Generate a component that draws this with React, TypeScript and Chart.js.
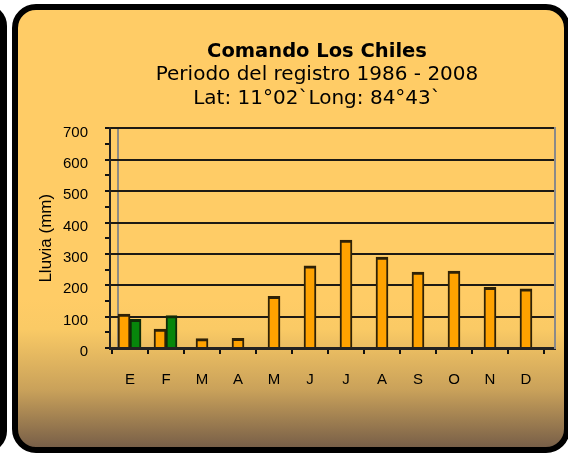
import React, { useEffect, useRef } from 'react';
import { Chart, registerables } from 'chart.js';

Chart.register(...registerables);

// ---- data ----
const MONTHS = ['E', 'F', 'M', 'A', 'M', 'J', 'J', 'A', 'S', 'O', 'N', 'D'];
const RAIN_AVG = [108, 60, 30, 31, 165, 262, 344, 290, 242, 245, 193, 189];
const RAIN_CURRENT = [91, 103, null, null, null, null, null, null, null, null, null, null];
const Y_MIN = 0;
const Y_MAX = 700;
const Y_MINOR_STEP = 50;
const Y_LABEL_STEP = 100;

const TITLE = 'Comando Los Chiles';
const SUBTITLE = ['Periodo del registro 1986 - 2008', 'Lat: 11°02`Long: 84°43`'];
const Y_TITLE = 'Lluvia (mm)';

const X_MIN = -0.556;
const X_MAX = 11.806;
const BACK_WALL_X = -0.333; // 3D back-wall edge, in category units

const toPoints = (vals: (number | null)[]) => vals.map((v, i) => ({ x: i, y: v }));

export default function App() {
  const ref = useRef<HTMLCanvasElement | null>(null);

  useEffect(() => {
    if (!ref.current) return;
    const chart = new Chart(ref.current, {
      type: 'bar',
      data: {
        datasets: [
          {
            label: 'Promedio',
            data: toPoints(RAIN_AVG),
            backgroundColor: '#FFA200',
            borderColor: '#2e2106',
            borderWidth: { top: 3, left: 2, right: 2, bottom: 0 },
            barThickness: 12,
            skipNull: true,
            xAxisID: 'x',
            yAxisID: 'y',
          } as any,
          {
            label: 'Actual',
            data: toPoints(RAIN_CURRENT),
            backgroundColor: '#07860B',
            borderColor: '#102a08',
            borderWidth: { top: 3, left: 2, right: 2, bottom: 0 },
            barThickness: 11,
            skipNull: true,
            xAxisID: 'x',
            yAxisID: 'y',
          } as any,
        ],
      },
      options: {
        animation: false,
        responsive: false,
        devicePixelRatio: 1,
        layout: { padding: { left: 0, right: 0, top: 0, bottom: 58.6 } },
        plugins: {
          legend: { display: false },
          tooltip: { enabled: false },
          title: {
            display: true,
            text: TITLE,
            color: '#000',
            font: { family: 'DejaVu Sans', size: 19.5, weight: 'bold', lineHeight: 1.2 },
            padding: { top: 30, bottom: 0 },
          },
          subtitle: {
            display: true,
            text: SUBTITLE,
            color: '#000',
            font: { family: 'DejaVu Sans', size: 20, lineHeight: 23.5 / 20 },
            padding: { top: 0, bottom: 18 },
          },
        },
        scales: {
          x: {
            type: 'linear',
            position: 'bottom',
            offset: false,
            min: X_MIN,
            max: X_MAX,
            afterBuildTicks: (s: any) => {
              s.ticks = [{ value: BACK_WALL_X }].concat(
                MONTHS.concat(['']).map((_, i) => ({ value: i - 0.5 }))
              );
            },
            ticks: { display: false },
            grid: {
              display: true,
              offset: false,
              drawOnChartArea: true,
              drawTicks: true,
              tickLength: 6,
              color: (c: any) => (c.index === 0 ? '#8f8a80' : 'rgba(0,0,0,0)'),
              tickColor: (c: any) => (c.index === 0 ? 'rgba(0,0,0,0)' : '#111'),
              lineWidth: 2,
            },
            border: { display: true, color: '#222', width: 3 },
            afterFit: (s: any) => { s.height = 5; },
          },
          x2: {
            type: 'linear',
            position: 'bottom',
            offset: false,
            min: X_MIN,
            max: X_MAX,
            afterBuildTicks: (s: any) => {
              s.ticks = MONTHS.map((_, i) => ({ value: i }));
            },
            ticks: {
              autoSkip: false,
              maxRotation: 0,
              minRotation: 0,
              padding: 18,
              color: '#000',
              font: { family: 'Liberation Sans', size: 15 },
              callback: (_v: any, i: number) => MONTHS[i],
            },
            grid: { display: false, offset: false, drawTicks: false },
            border: { display: false },
            afterFit: (s: any) => { s.height = 35.4; },
          },
          y: {
            position: 'left',
            min: Y_MIN,
            max: Y_MAX,
            ticks: {
              stepSize: Y_MINOR_STEP,
              autoSkip: false,
              color: '#000',
              font: { family: 'Liberation Sans', size: 15 },
              padding: 17,
              labelOffset: 4,
              callback: (v: any) => (Number(v) % Y_LABEL_STEP === 0 ? String(v) : ''),
            },
            grid: {
              color: (c: any) =>
                c.tick && c.tick.value % Y_LABEL_STEP === 0 && c.tick.value !== 0 ? '#1d1a14' : 'rgba(0,0,0,0)',
              tickColor: '#111',
              lineWidth: 2,
              tickLength: 5,
              drawTicks: true,
            },
            border: { display: true, color: '#222', width: 2 },
            title: {
              display: true,
              text: Y_TITLE,
              color: '#000',
              font: { family: 'Liberation Sans', size: 17, lineHeight: 1.2 },
              padding: { top: 0, bottom: 0 },
            },
            afterFit: (s: any) => { s.width = 74; },
          },
          y2: {
            position: 'right',
            min: Y_MIN,
            max: Y_MAX,
            ticks: { display: false },
            grid: { display: false, drawTicks: false },
            border: { display: true, color: '#8a8a8a', width: 2 },
            afterFit: (s: any) => { s.width = 43; },
          },
        },
      } as any,
    });
    return () => chart.destroy();
  }, []);

  return (
    <div style={{ position: 'fixed', left: 0, top: 0, width: 568, height: 454, background: '#fff', overflow: 'hidden' }}>
      <div
        style={{
          position: 'absolute', left: -300, top: 4, width: 307, height: 449,
          boxSizing: 'border-box', border: '7px solid #000', borderRadius: 22,
        }}
      />
      <div
        style={{
          position: 'absolute', left: 12, top: 4, width: 558, height: 449,
          boxSizing: 'border-box', border: '6px solid #000', borderRadius: 24,
          background: 'linear-gradient(to bottom, #FFCC66 0%, #FFCC66 66%, #FACA65 73%, #C9A15A 87%, #785F48 100%)',
        }}
      />
      <canvas
        ref={ref}
        width={562}
        height={437}
        style={{ position: 'absolute', left: 36, top: 10, display: 'block' }}
      />
    </div>
  );
}
